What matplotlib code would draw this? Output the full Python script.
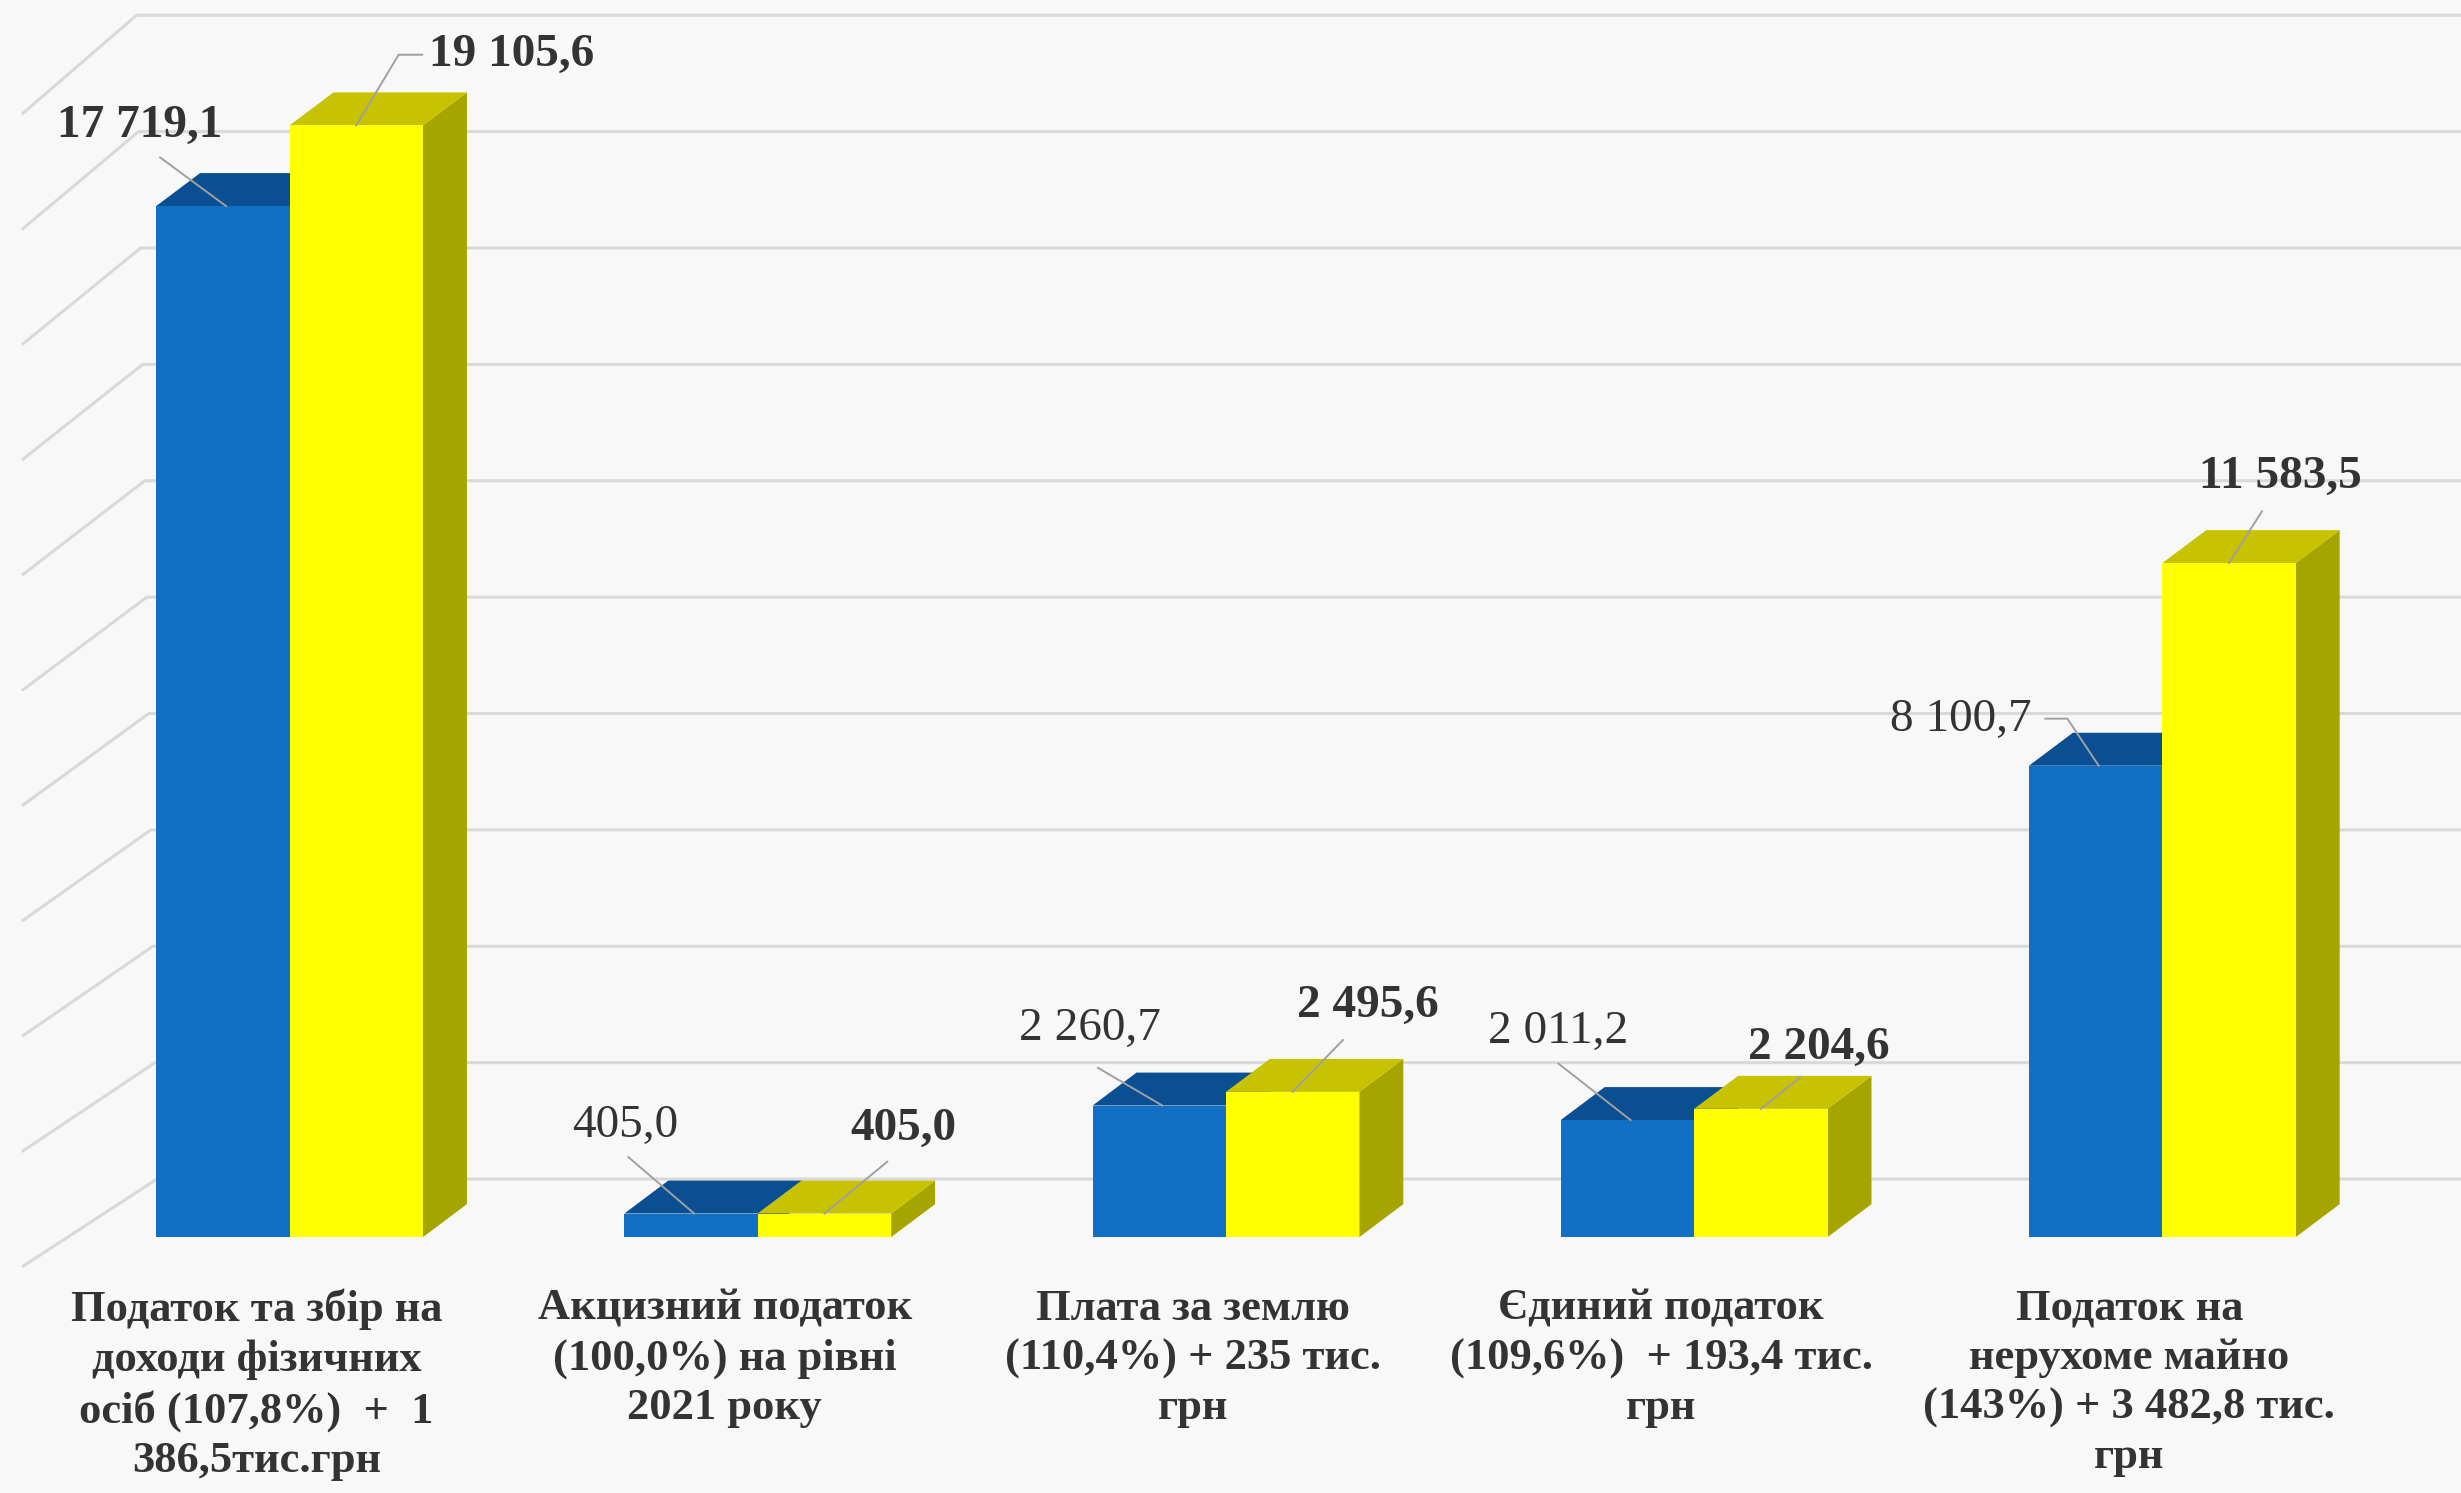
import numpy as np
import matplotlib
matplotlib.use('Agg')
from matplotlib import pyplot as plt
from matplotlib.patches import Polygon

# data
categories = [
    'Податок та збір на\nдоходи фізичних\nосіб (107,8%)  +  1\n386,5тис.грн',
    'Акцизний податок\n(100,0%) на рівні\n2021 року',
    'Плата за землю\n(110,4%) + 235 тис.\nгрн',
    'Єдиний податок\n(109,6%)  + 193,4 тис.\nгрн',
    'Податок на\nнерухоме майно\n(143%) + 3 482,8 тис.\nгрн',
]
values_blue = [17719.1, 405.0, 2260.7, 2011.2, 8100.7]
values_yellow = [19105.6, 405.0, 2495.6, 2204.6, 11583.5]
labels_blue = ['17 719,1', '405,0', '2 260,7', '2 011,2', '8 100,7']
labels_yellow = ['19 105,6', '405,0', '2 495,6', '2 204,6', '11 583,5']
grid_values = np.arange(0, 20001, 2000)

# screen scale helpers (reference measured at 1568 px width)
PX_X = 1 / 298.3      # category units per px
PX_Y = 26.98          # value units per px
def sx(p):
    return p * PX_X
def sy(p):
    return p * PX_Y

W = sx(85)
DX, DY = sx(28), sy(21)
WALL_DY = sy(37)

blue_front, blue_top = '#1070C6', '#0B4F93'
yel_front, yel_top, yel_side = '#FFFF00', '#C8C300', '#A6A500'
grid_c = '#D9D9D9'
txt_c = '#333333'
lead_c = '#A0A0A0'

fig = plt.figure(figsize=(24.61, 14.93), dpi=100)
fig.patch.set_facecolor('#F8F8F8')
ax = fig.add_axes([0, 0, 1, 1])
ax.set_facecolor('#F8F8F8')
ax.set_xlim(sx(-184.5), sx(1568 - 184.5))
ax.set_ylim(-sy(951 - 788), sy(788))
ax.axis('off')

# back wall + side wall grid
right = ax.get_xlim()[1]
for k, v in enumerate(grid_values):
    t = k / (len(grid_values) - 1)
    xb = sx(100 - 13 * t - 184.5)
    xf = sx(14 - 184.5)
    yb = v + WALL_DY
    yf = yb - sy(56 + 7 * t)
    ax.plot([xf, xb, right], [yf, yb, yb], color=grid_c, lw=2.2, zorder=1,
            solid_capstyle='butt')


def bar3d(x0, h, front, top, side):
    ax.add_patch(Polygon([(x0 + W, 0), (x0 + W + DX, DY), (x0 + W + DX, h + DY), (x0 + W, h)],
                         closed=True, fc=side, ec='none', zorder=3))
    ax.add_patch(Polygon([(x0, h), (x0 + W, h), (x0 + W + DX, h + DY), (x0 + DX, h + DY)],
                         closed=True, fc=top, ec='none', zorder=3))
    ax.add_patch(Polygon([(x0, 0), (x0 + W, 0), (x0 + W, h), (x0, h)],
                         closed=True, fc=front, ec='none', zorder=3))


for i in range(len(categories)):
    bar3d(i - W, values_blue[i], blue_front, blue_top, blue_top)
    bar3d(i, values_yellow[i], yel_front, yel_top, yel_side)

# label offsets in px: (text dx, text dy, leader start dx, leader start dy, elbow)
off_blue = [(-55, -51, -42, -31, None), (-44, -56, -42, -36, None), (-46, -49, -41, -24, None),
            (-46, -56, -46, -36, None), (-88, -29, -34, -30, (-20, -30))]
off_yel = [(99, -45, 42, -45, (27, -45)), (50, -54, 40, -33, None), (48, -55, 32, -33, None),
           (37, -39, 25, -20, None), (33, -55, 21, -33, None)]

def label(xc, h, text, off, bold):
    tdx, tdy, ldx, ldy, elbow = off
    ex, ey = xc, h
    pts_x, pts_y = [ex + sx(ldx)], [ey - sy(ldy)]
    if elbow is not None:
        pts_x.append(ex + sx(elbow[0]))
        pts_y.append(ey - sy(elbow[1]))
    pts_x.append(ex)
    pts_y.append(ey)
    ax.plot(pts_x, pts_y, color=lead_c, lw=1.4, zorder=4)
    ax.text(ex + sx(tdx), ey - sy(tdy), text, ha='center', va='center',
            fontsize=34, color=txt_c, family='Liberation Serif',
            fontweight='bold' if bold else 'normal', zorder=5)

for i in range(len(categories)):
    label(i - W / 2 + sx(2), values_blue[i], labels_blue[i], off_blue[i], i == 0)
    label(i + W / 2, values_yellow[i], labels_yellow[i], off_yel[i], True)

# category labels
for i, c in enumerate(categories):
    ax.text(i - sx(21), -sy(821 - 788), c, ha='center', va='top', fontsize=32,
            color=txt_c, family='Liberation Serif', fontweight='bold',
            linespacing=1.3)

fig.savefig('out.png', dpi=100, facecolor=fig.get_facecolor())
